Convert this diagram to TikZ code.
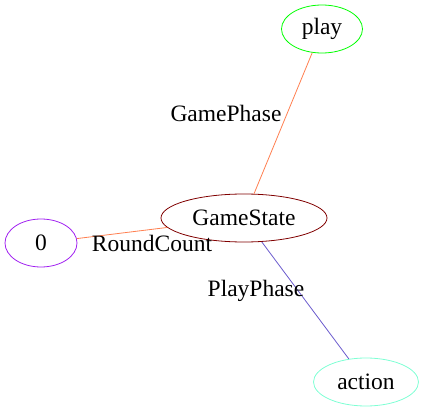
\documentclass[tikz,border=0pt]{standalone}
\usepackage{fontspec}
\setmainfont{Liberation Serif}
\usetikzlibrary{positioning,shapes.geometric}
\definecolor{cMaroon}{HTML}{800000}
\definecolor{cGreen}{HTML}{00FF00}
\definecolor{cPurple}{HTML}{A020F0}
\definecolor{cAqua}{HTML}{7FFFD4}
\definecolor{cCoral}{HTML}{FF7F50}
\definecolor{cSlate}{HTML}{6A5ACD}
\tikzset{
  gnode/.style={ellipse,draw=#1,line width=0.8pt,inner sep=0pt,font=\fontsize{23.5}{26}\selectfont},
  gnode/.default=cMaroon,
  edg/.style={line width=0.8pt,color=#1},
  edg/.default=cCoral,
  lbl/.style={font=\fontsize{23.5}{26}\selectfont,inner sep=1pt},
}

\begin{document}
\begin{tikzpicture}[x=1pt,y=-1pt]
        \useasboundingbox (0,0) rectangle (424,412);
        \node[gnode=cMaroon,minimum width=166pt,minimum height=48pt] (gs) at (244,218) {GameState};
        \node[gnode=cGreen,minimum width=81pt,minimum height=48pt] (play) at (322,29) {play};
        \node[gnode=cPurple,minimum width=72pt,minimum height=48pt] (zero) at (41,243) {0};
        \node[gnode=cAqua,minimum width=105pt,minimum height=48pt] (action) at (366,382) {action};
        % edges
        \draw[edg=cCoral] (gs) -- (play);
        \draw[edg=cCoral] (gs) -- (zero);
        \draw[edg=cSlate] (gs) -- (action);
        % edge labels
        \node[lbl] (lgp) at (226,113) {GamePhase};
        \node[lbl] (lrc) at (152,243) {RoundCount};
        \node[lbl] (lpp) at (256,291) {PlayPhase};
      \end{tikzpicture}
\end{document}
